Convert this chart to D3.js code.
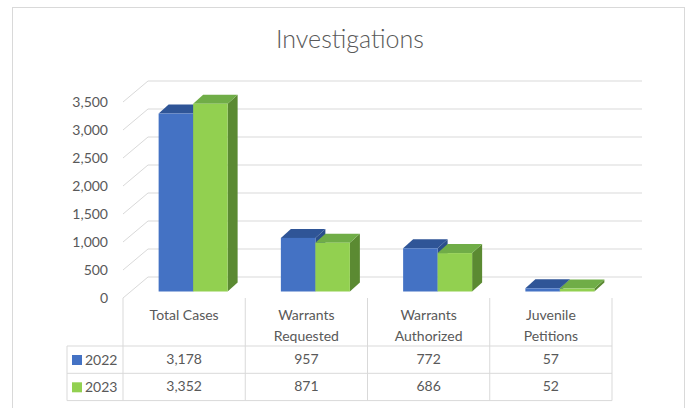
<!DOCTYPE html>
<html>
<head>
<meta charset="utf-8">
<script src="https://cdn.jsdelivr.net/npm/d3@7"></script>
<style>
  body { margin: 0; background: #fff; }
  svg text { font-family: Lato, "Open Sans", sans-serif; fill: #595959; }
</style>
</head>
<body>
<div id="chart"></div>
<script>
// data
var categories = ["Total Cases", "Warrants Requested", "Warrants Authorized", "Juvenile Petitions"];
var catLines = [["Total Cases"], ["Warrants", "Requested"], ["Warrants", "Authorized"], ["Juvenile", "Petitions"]];
var series = ["2022", "2023"];
var values2022 = [3178, 957, 772, 57];
var values2023 = [3352, 871, 686, 52];
var yTicks = [0, 500, 1000, 1500, 2000, 2500, 3000, 3500];

var colors = {
  "2022": {front: "#4472C4", top: "#2F5597", side: "#2B4F8C"},
  "2023": {front: "#92D050", top: "#70AD47", side: "#5B8A32"}
};

var width = 689, height = 408;
var svg = d3.select("#chart").append("svg")
    .attr("width", width)
    .attr("height", height);

// chart border
svg.append("rect")
    .attr("x", 12.5).attr("y", 7.5)
    .attr("width", 672).attr("height", 420)
    .attr("fill", "#fff")
    .attr("stroke", "#D9D9D9");

svg.append("text")
    .attr("x", 350).attr("y", 48)
    .attr("text-anchor", "middle")
    .style("font-size", "25px")
    .style("font-weight", "300")
    .text("Investigations");

var left = 123, right = 612;
var depthX = 25, depthY = -21;   // floor depth
var yScale = d3.scaleLinear().domain([0, 3500]).range([298, 102]);
var xScale = d3.scaleBand().domain(categories).range([left, right]);
var groupW = 69;
var xSub = d3.scaleBand().domain(series).range([0, groupW]);

// walls: diagonal on side wall + back wall lines
var grid = svg.append("g").attr("stroke", "#D9D9D9").attr("fill", "none");
yTicks.forEach(function(t) {
  var y = yScale(t);
  grid.append("path")
      .attr("d", "M" + left + "," + y + "L" + (left + depthX) + "," + (y + depthY) + "L" + (right + depthX + 5) + "," + (y + depthY));
});

// y labels
svg.append("g").selectAll("text")
    .data(yTicks).enter().append("text")
    .attr("x", 108)
    .attr("y", function(d) { return yScale(d) + 5; })
    .attr("text-anchor", "end")
    .style("font-size", "14px")
    .text(function(d) { return d3.format(",")(d); });

// bars
var barDX = 10, barDY = -9;
var shiftX = 9, shiftY = -6.5;
var data = [];
categories.forEach(function(c, i) {
  data.push({cat: c, s: "2022", v: values2022[i]});
  data.push({cat: c, s: "2023", v: values2023[i]});
});

var bars = svg.append("g").selectAll("g")
    .data(data).enter().append("g");

bars.each(function(d) {
  var g = d3.select(this);
  var x0 = xScale(d.cat) + (xScale.bandwidth() - groupW) / 2 + shiftX + xSub(d.s);
  var w = xSub.bandwidth();
  var base = yScale(0) + shiftY;
  var top = yScale(d.v) + shiftY;
  var c = colors[d.s];
  g.append("path")
      .attr("d", "M" + (x0 + w) + "," + base + "L" + (x0 + w + barDX) + "," + (base + barDY) +
        "L" + (x0 + w + barDX) + "," + (top + barDY) + "L" + (x0 + w) + "," + top + "Z")
      .attr("fill", c.side);
  g.append("path")
      .attr("d", "M" + x0 + "," + top + "L" + (x0 + barDX) + "," + (top + barDY) +
        "L" + (x0 + w + barDX) + "," + (top + barDY) + "L" + (x0 + w) + "," + top + "Z")
      .attr("fill", c.top);
  g.append("rect")
      .attr("x", x0).attr("y", top)
      .attr("width", w).attr("height", base - top)
      .attr("fill", c.front);
});

// data table
var tbl = svg.append("g");
var rowTop = 298, headBottom = 346, rowH = 27.3, keyLeft = 67;
var tl = tbl.append("g").attr("stroke", "#D9D9D9").attr("fill", "none");
[0, 1, 2].forEach(function(r) {
  var y = headBottom + r * rowH;
  tl.append("line").attr("x1", keyLeft).attr("x2", right).attr("y1", y).attr("y2", y);
});
tl.append("line").attr("x1", keyLeft).attr("x2", keyLeft)
    .attr("y1", headBottom).attr("y2", headBottom + 2 * rowH);
categories.concat([null]).forEach(function(c, i) {
  var x = i < categories.length ? xScale(c) : right;
  tl.append("line").attr("x1", x).attr("x2", x)
      .attr("y1", rowTop).attr("y2", headBottom + 2 * rowH);
});

categories.forEach(function(c, i) {
  var cx = xScale(c) + xScale.bandwidth() / 2;
  catLines[i].forEach(function(line, j) {
    tbl.append("text")
        .attr("x", cx).attr("y", 320 + j * 21)
        .attr("text-anchor", "middle")
        .style("font-size", "14px")
        .text(line);
  });
  [values2022[i], values2023[i]].forEach(function(v, r) {
    tbl.append("text")
        .attr("x", cx).attr("y", headBottom + r * rowH + 18)
        .attr("text-anchor", "middle")
        .style("font-size", "14px")
        .text(d3.format(",")(v));
  });
});

series.forEach(function(s, r) {
  var y = headBottom + r * rowH;
  tbl.append("rect")
      .attr("x", 72).attr("y", y + 9)
      .attr("width", 10).attr("height", 10)
      .attr("fill", colors[s].front);
  tbl.append("text")
      .attr("x", 85).attr("y", y + 19)
      .style("font-size", "14px")
      .text(s);
});
</script>
</body>
</html>
